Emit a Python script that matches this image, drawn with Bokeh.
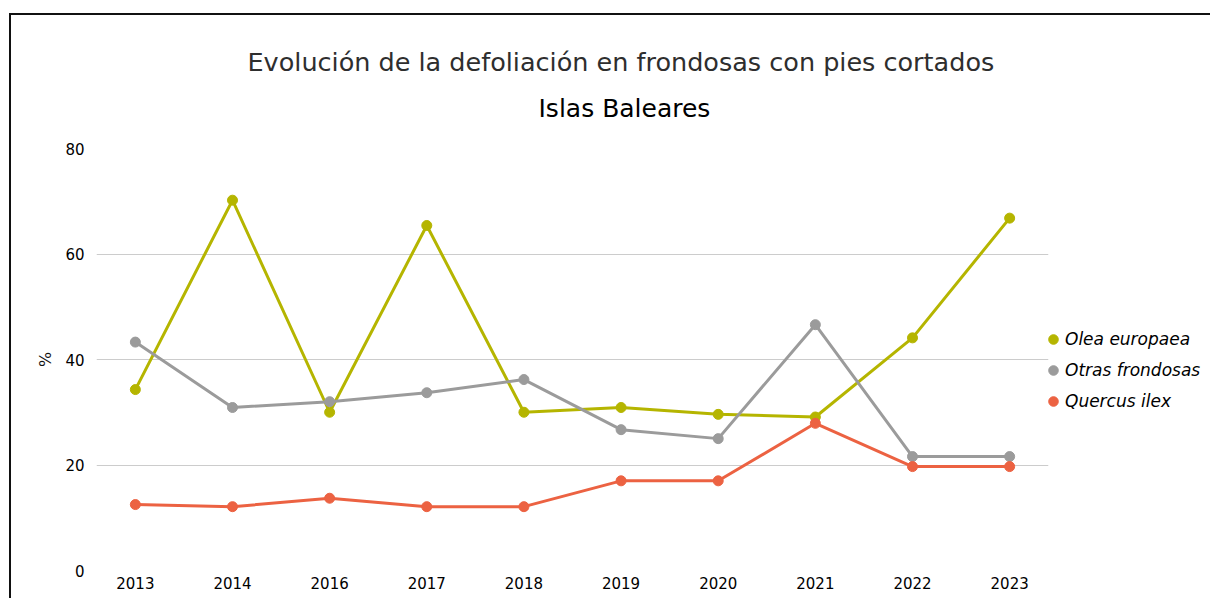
from bokeh.plotting import figure
from bokeh.models import (ColumnDataSource, Range1d, FixedTicker, Legend, LegendItem, Title)
from bokeh.embed import file_html
from bokeh.resources import INLINE

years = ["2013", "2014", "2016", "2017", "2018", "2019", "2020", "2021", "2022", "2023"]
olea = [34.3, 70.2, 30.0, 65.4, 30.0, 30.9, 29.6, 29.1, 44.1, 66.8]
otras = [43.3, 30.9, 32.0, 33.7, 36.2, 26.7, 25.0, 46.6, 21.6, 21.6]
quercus = [12.5, 12.1, 13.7, 12.1, 12.1, 17.0, 17.0, 27.9, 19.7, 19.7]
series_names = ["Olea europaea", "Otras frondosas", "Quercus ilex"]
colors = ["#b5b500", "#9b9b9b", "#ec6242"]

xi = list(range(len(years)))

FONT = "DejaVu Sans"

p = figure(
    frame_width=952, frame_height=422,
    min_border_left=85, min_border_right=160, min_border_top=133, min_border_bottom=28,
    x_range=Range1d(-0.4, len(years) - 1 + 0.4), y_range=Range1d(0, 80),
    output_backend="svg", toolbar_location=None,
    title="Evolución de la defoliación en frondosas con pies cortados",
)
p.styles = {"border-top": "2px solid #111", "border-left": "2px solid #111",
            "margin-top": "13px", "margin-left": "9px"}

p.title.text_font = FONT
p.title.text_font_size = "25.5px"
p.title.text_font_style = "normal"
p.title.text_color = "#2e2e2e"
p.title.align = "left"
p.title.offset = 151
p.title.standoff = -20

t2 = Title(text="Islas Baleares",
           text_font=FONT, text_font_size="25px", text_font_style="normal",
           text_color="#000000", align="left", offset=442, standoff=51)
p.add_layout(t2, "above")

p.outline_line_color = None
p.xgrid.grid_line_color = None
p.ygrid.grid_line_color = "#cccccc"
p.ygrid.grid_line_width = 1

p.yaxis.ticker = FixedTicker(ticks=[0, 20, 40, 60, 80])
p.yaxis.axis_line_color = None
p.yaxis.major_tick_line_color = None
p.yaxis.minor_tick_line_color = None
p.yaxis.major_label_standoff = 6
p.yaxis.major_label_text_font = FONT
p.yaxis.major_label_text_font_size = "15px"
p.yaxis.major_label_text_color = "#000000"
p.yaxis.axis_label = "%"
p.yaxis.axis_label_text_font = FONT
p.yaxis.axis_label_text_font_size = "16px"
p.yaxis.axis_label_text_font_style = "normal"
p.yaxis.axis_label_text_color = "#111111"
p.yaxis.axis_label_standoff = 7

p.xaxis.ticker = FixedTicker(ticks=xi)
p.xaxis.major_label_overrides = {i: y for i, y in zip(xi, years)}
p.xaxis.axis_line_color = None
p.xaxis.major_tick_line_color = None
p.xaxis.minor_tick_line_color = None
p.xaxis.major_label_standoff = 0
p.xaxis.major_label_text_font = FONT
p.xaxis.major_label_text_font_size = "15px"
p.xaxis.major_label_text_color = "#000000"

items = []
for name, vals, col in zip(series_names, [olea, otras, quercus], colors):
    src = ColumnDataSource(dict(x=xi, y=vals))
    p.line("x", "y", source=src, line_color=col, line_width=3)
    r = p.scatter("x", "y", source=src, size=10, fill_color=col, line_color=col)
    items.append(LegendItem(label=name, renderers=[r]))

legend = Legend(items=items, location=(-7, 157), padding=0, margin=0,
                glyph_width=24, glyph_height=24, spacing=7, label_standoff=-3,
                label_text_font=FONT, label_text_font_size="17px",
                label_text_font_style="italic", label_text_color="#000000",
                background_fill_alpha=0, border_line_color=None)
p.add_layout(legend, "right")

open("out.html", "w").write(file_html(p, INLINE))
